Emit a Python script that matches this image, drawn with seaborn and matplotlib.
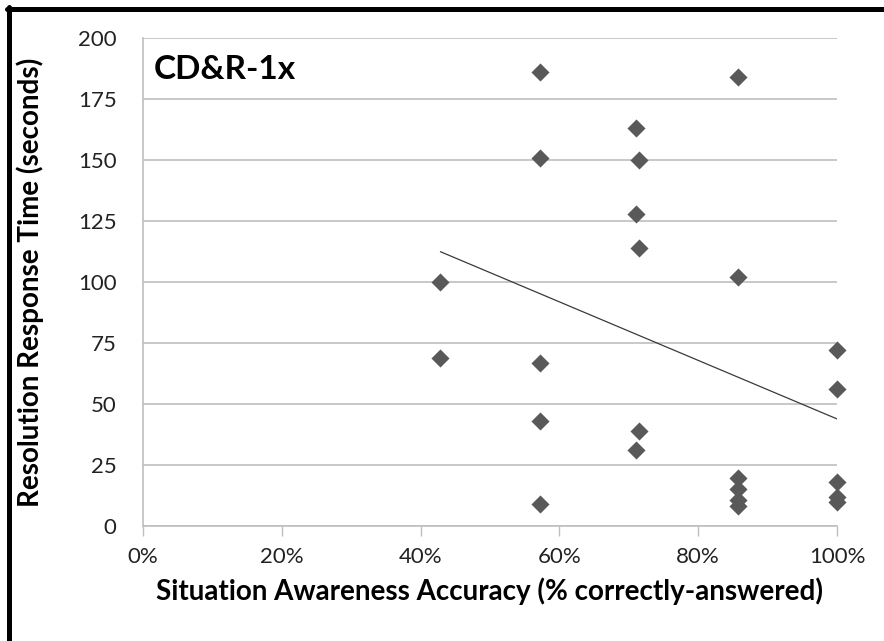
import numpy as np
import pandas as pd
import matplotlib
matplotlib.use("Agg")
import matplotlib.pyplot as plt
from matplotlib.lines import Line2D
from matplotlib.ticker import PercentFormatter
import seaborn as sns

# dữ liệu
accuracy = [3/7, 3/7,
            4/7, 4/7, 4/7, 4/7, 4/7,
            0.711, 0.714, 0.711, 0.714, 0.714, 0.711,
            6/7, 6/7, 6/7, 6/7, 6/7, 6/7,
            1.0, 1.0, 1.0, 1.0, 1.0]
response_time = [100, 69,
                 186, 151, 67, 43, 9,
                 163, 150, 128, 114, 39, 31,
                 184, 102, 19.5, 15, 10.5, 8,
                 72, 56, 18, 12, 10]

df = pd.DataFrame({'acc': accuracy, 'rt': response_time})

sns.set_theme(style="white")
plt.rcParams['font.family'] = ['Lato', 'DejaVu Sans']

fig = plt.figure(figsize=(8.84, 6.41), dpi=100)
ax = fig.add_axes([143/884, 1 - 526/641, (837 - 143)/884, (526 - 38)/641])

grid_c = '#bfbfbf'
ax.set_axisbelow(True)
ax.yaxis.grid(True, color=grid_c, linewidth=1.2)
ax.xaxis.grid(False)

sns.scatterplot(data=df, x='acc', y='rt', marker='D', s=85, color='#595959',
                linewidth=0, ax=ax, zorder=3, clip_on=False)
sns.regplot(data=df, x='acc', y='rt', scatter=False, ci=None, ax=ax,
            line_kws={'color': '#3a3a3a', 'linewidth': 0.9, 'zorder': 4})

ax.set_xlim(0, 1)
ax.set_ylim(0, 200)
ax.set_xticks(np.arange(0, 1.01, 0.2))
ax.set_yticks(np.arange(0, 201, 25))
ax.xaxis.set_major_formatter(PercentFormatter(1.0, decimals=0))

for s in ['top', 'right']:
    ax.spines[s].set_visible(False)
ax.spines['left'].set_color(grid_c)
ax.spines['bottom'].set_color(grid_c)
ax.spines['left'].set_linewidth(1.2)
ax.spines['bottom'].set_linewidth(1.2)

ax.tick_params(axis='x', direction='out', length=7, width=1, color=grid_c,
               labelsize=16, pad=8, labelcolor='#222222', bottom=True)
ax.tick_params(axis='y', length=0, labelsize=16, pad=19, labelcolor='#222222')

ax.set_xlabel('Situation Awareness Accuracy (% correctly-answered)',
              fontsize=20, fontweight='bold', color='black')
ax.set_ylabel('Resolution Response Time (seconds)',
              fontsize=20, fontweight='bold', color='black')
ax.xaxis.set_label_coords(0.5, (526 - 591) / 488)
ax.yaxis.set_label_coords((30 - 143) / 694, 0.5)
ax.xaxis.label.set_va('center')
ax.yaxis.label.set_va('center')

ax.text(0.016, 0.935, 'CD&R-1x', transform=ax.transAxes, fontsize=24,
        fontweight='bold', ha='left', va='center', color='black')

# viền đen trên và trái
fig.add_artist(Line2D([6.5/884, 1], [1 - 8.5/641, 1 - 8.5/641],
                      transform=fig.transFigure, color='black', linewidth=3.6))
fig.add_artist(Line2D([8.5/884, 8.5/884], [0, 1 - 6.5/641],
                      transform=fig.transFigure, color='black', linewidth=3.6))

fig.savefig('out.png', dpi=100)
